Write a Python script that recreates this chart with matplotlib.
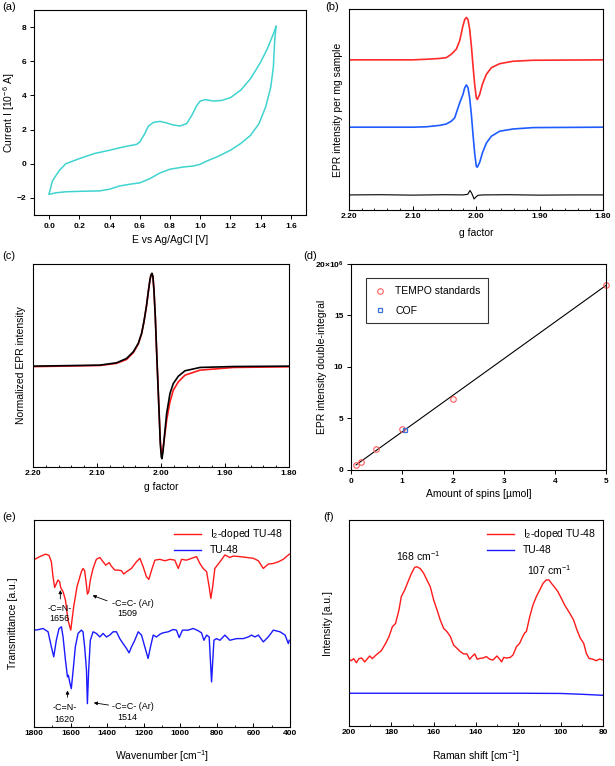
import numpy as np
import matplotlib
matplotlib.use('Agg')
import matplotlib.pyplot as plt
from matplotlib.ticker import MultipleLocator, FormatStrFormatter, FuncFormatter

plt.rcParams['font.family'] = ['Liberation Sans', 'DejaVu Sans']
plt.rcParams['mathtext.default'] = 'regular'
plt.rcParams['axes.linewidth'] = 0.8

W, H = 615, 766

##################################################
# data
##################################################

# (a) cyclic voltammogram, forward and reverse scan
cv_fwd_E = [0.0, 0.022, 0.067, 0.11, 0.2, 0.3, 0.4, 0.49, 0.58, 0.6, 0.633, 0.656, 0.69, 0.733,
            0.778, 0.82, 0.867, 0.91, 0.944, 0.978, 1.0, 1.033, 1.09, 1.144, 1.2, 1.267, 1.333,
            1.4, 1.444, 1.489, 1.502]
cv_fwd_I = [-1.75, -1.0, -0.4, 0.0, 0.3, 0.6, 0.79, 0.98, 1.14, 1.27, 1.76, 2.19, 2.42, 2.48,
            2.39, 2.27, 2.21, 2.35, 2.83, 3.42, 3.67, 3.75, 3.67, 3.71, 3.87, 4.30, 4.98,
            5.95, 6.73, 7.71, 8.04]
cv_rev_E = [1.502, 1.493, 1.484, 1.467, 1.433, 1.389, 1.333, 1.267, 1.2, 1.11, 1.044, 1.0,
            0.956, 0.889, 0.8, 0.733, 0.667, 0.6, 0.533, 0.467, 0.4, 0.333, 0.222, 0.111,
            0.044, 0.0]
cv_rev_I = [8.04, 7.22, 5.66, 4.49, 3.32, 2.35, 1.66, 1.18, 0.79, 0.40, 0.16, -0.03,
            -0.13, -0.19, -0.32, -0.54, -0.87, -1.12, -1.2, -1.30, -1.49, -1.59, -1.61, -1.64,
            -1.7, -1.79]

# (b) EPR spectra per mg sample (offset traces), common g grid
epr_g = [2.2, 2.1, 2.0782, 2.0572, 2.0467, 2.0388, 2.0336, 2.0310, 2.0257, 2.0205, 2.0178,
         2.0152, 2.0126, 2.0100, 2.0073, 2.0047, 2.0021, 1.9995, 1.9979, 1.9942, 1.99, 1.9837,
         1.9758, 1.9627, 1.9417, 1.91, 1.8]
epr_red = [74.7, 74.7, 75.0, 75.4, 75.8, 77.5, 79.2, 80.0, 84.2, 91.7, 94.7,
           95.8, 94.7, 90.0, 81.7, 71.7, 62.5, 55.8, 55.0, 57.5, 62.5, 67.5,
           70.8, 72.8, 74.0, 74.5, 74.7]
epr_blue = [41.2, 41.2, 41.4, 42.1, 42.8, 44.2, 45.8, 48.3, 53.3, 57.5, 60.8,
            62.2, 60.8, 55.8, 47.5, 37.5, 28.3, 21.7, 21.3, 23.7, 28.3, 33.3,
            36.7, 39.2, 40.3, 41.0, 41.2]
epr_blk_g = [2.2, 2.15, 2.1, 2.05, 2.02, 2.013, 2.0095, 2.007, 2.005, 2.003, 2.0, 1.997, 1.99,
             1.95, 1.9, 1.85, 1.8]
epr_blk = [7.5, 7.6, 7.4, 7.6, 7.5, 7.8, 9.7, 8.5, 7.0, 5.5, 6.5, 7.3, 7.5, 7.6, 7.4, 7.5, 7.5]

# (c) normalized EPR, measured (red) and simulated (black)
norm_g = [2.2, 2.0956, 2.0695, 2.0538, 2.0433, 2.0355, 2.0303, 2.0267, 2.0225, 2.0199, 2.0173,
          2.0157, 2.0141, 2.0126, 2.0110, 2.0089, 2.0069, 2.0048, 2.0027, 2.0011, 1.9995,
          1.9985, 1.9969, 1.9948, 1.9912, 1.9860, 1.9808, 1.9729, 1.9625, 1.9390, 1.8868, 1.8]
norm_black = [0.0, 0.011, 0.036, 0.083, 0.155, 0.245, 0.353, 0.478, 0.658, 0.80, 0.928,
              0.982, 1.0, 0.964, 0.82, 0.532, 0.173, -0.187, -0.547, -0.835, -0.978,
              -0.996, -0.924, -0.763, -0.511, -0.295, -0.187, -0.108, -0.05, -0.014, -0.004, 0.0]
norm_red = [-0.005, 0.007, 0.03, 0.072, 0.145, 0.238, 0.348, 0.474, 0.655, 0.797, 0.925,
            0.978, 0.996, 0.96, 0.815, 0.527, 0.168, -0.19, -0.54, -0.80, -0.93,
            -0.94, -0.888, -0.78, -0.583, -0.385, -0.259, -0.169, -0.097, -0.043, -0.014, -0.007]

# (d) spin quantification
tempo_x = [0.1, 0.2, 0.5, 1.0, 2.0, 5.0]
tempo_y = [0.45e6, 0.8e6, 2.0e6, 4.0e6, 6.9e6, 18.0e6]
cof_x = [1.05]
cof_y = [3.85e6]

# (e) FT-IR spectra
ir_red_wn = [1796, 1769, 1736, 1718, 1705, 1696, 1687, 1669, 1660, 1654, 1641, 1628, 1614, 1599,
             1583, 1565, 1541, 1532, 1523, 1513, 1508, 1501, 1492, 1477, 1459, 1440, 1422, 1408,
             1389, 1377, 1358, 1340, 1322, 1309, 1294, 1267, 1240, 1221, 1203, 1185, 1172, 1157,
             1139, 1112, 1084, 1057, 1030, 1011, 993, 966, 938, 911, 893, 875, 856, 842, 833, 823,
             811, 783, 756, 729, 710, 674, 637, 601, 573, 546, 519, 491, 464, 437, 404]
ir_red_T = [81.0, 82.3, 83.5, 82.9, 79.8, 72.6, 67.4, 71.0, 70.2, 67.4, 65.3, 61.3, 51.6, 46.8,
            58.1, 67.7, 75.0, 76.6, 75.5, 68.5, 64.2, 65.3, 71.0, 76.6, 81.0, 81.9, 79.8, 78.2,
            79.4, 77.7, 75.8, 75.8, 75.5, 73.9, 75.0, 76.6, 79.8, 81.5, 77.4, 72.6, 71.3, 75.8,
            80.6, 81.0, 80.3, 81.0, 80.6, 76.6, 81.0, 80.6, 81.5, 82.3, 79.0, 76.6, 75.0, 67.7, 62.1, 67.7,
            76.6, 79.8, 83.1, 81.9, 82.6, 82.3, 81.9, 81.5, 80.3, 76.6, 78.7, 79.0, 79.8, 81.0, 83.5]
ir_blue_wn = [1796, 1773, 1751, 1723, 1705, 1692, 1678, 1663, 1650, 1641, 1628, 1617, 1612, 1605,
              1596, 1586, 1574, 1559, 1541, 1532, 1523, 1513, 1508, 1501, 1492, 1477, 1459, 1440,
              1422, 1404, 1386, 1367, 1349, 1331, 1313, 1294, 1280, 1267, 1249, 1230, 1212, 1194,
              1176, 1163, 1148, 1130, 1112, 1094, 1066, 1039, 1021, 1006, 988, 957, 929, 902, 884,
              871, 856, 842, 829, 816, 802, 783, 756, 729, 692, 656, 628, 610, 592, 573, 546, 519,
              491, 455, 427, 409, 404]
ir_blue_T = [46.8, 47.1, 47.6, 46.0, 38.7, 33.9, 41.9, 47.6, 48.4, 43.5, 32.3, 24.2, 25.0, 21.8,
             18.5, 27.4, 38.7, 45.2, 46.8, 46.0, 38.7, 27.4, 11.3, 27.4, 41.9, 46.0, 45.2, 43.5,
             45.2, 43.5, 44.4, 46.0, 46.0, 42.7, 40.3, 37.9, 35.8, 38.7, 41.9, 46.0, 44.4, 38.7,
             33.1, 38.7, 44.4, 43.5, 44.8, 45.5, 46.0, 47.1, 46.8, 43.2, 46.8, 46.8, 47.6, 46.5, 45.5,
             41.9, 44.4, 43.5, 21.8, 41.9, 42.7, 41.9, 44.4, 41.9, 42.7, 42.7, 43.5, 44.4, 43.5, 44.4, 41.1, 43.5,
             46.8, 46.0, 44.4, 40.3, 41.9]

# (f) Raman spectra
raman_shift = [200.0, 198.9, 197.8, 196.5, 195.3, 194.0, 192.6, 191.5, 190.2, 189.0, 187.4, 184.7,
               182.7, 181.1, 179.5, 178.0, 176.4, 175.3, 173.7, 172.1, 170.6, 169.0, 167.9, 166.3,
               164.7, 163.2, 161.6, 160.0, 158.4, 156.9, 155.3, 153.7, 152.1, 150.6, 149.0, 147.4,
               145.8, 144.3, 143.0, 141.9, 140.6, 139.4, 138.3, 136.7, 135.1, 133.5, 132.0, 130.1,
               128.8, 127.9, 126.9, 125.7, 123.8, 122.5, 120.9, 119.4, 117.8, 116.9, 116.2, 114.6,
               113.1, 111.5, 109.9, 108.3, 106.8, 105.5, 104.4, 102.8, 101.3, 99.7, 98.1, 95.7,
               93.9, 92.3, 90.7, 89.1, 87.9, 86.6, 84.7, 83.2, 81.6, 80.0]
raman_doped = [32.4, 31.7, 32.7, 30.7, 32.7, 33.0, 31.1, 32.4, 34.0, 32.7, 34.3, 36.6,
               40.1, 43.4, 48.2, 49.8, 56.3, 62.8, 66.0, 70.1, 73.8, 77.0, 77.3, 76.4,
               74.1, 70.9, 67.6, 61.2, 56.3, 51.5, 47.4, 45.8, 43.4, 39.3, 37.7, 36.1,
               35.0, 35.0, 32.4, 33.7, 35.0, 32.4, 32.8, 33.0, 33.7, 32.4, 32.0, 34.0,
               32.4, 31.1, 33.3, 33.0, 33.3, 34.5, 38.5, 40.1, 43.7, 45.3, 45.8, 53.1,
               58.7, 62.8, 66.0, 69.3, 70.9, 70.9, 69.3, 67.3, 65.2, 62.0, 58.7, 54.7,
               51.5, 46.6, 42.6, 40.1, 35.3, 32.8, 32.4, 31.7, 32.5, 32.0]
raman_pure_shift = [200, 150, 120, 100, 90, 80]
raman_pure = [15.9, 15.9, 15.9, 15.8, 15.4, 14.9]


##################################################
# helpers
##################################################

def px_axes(left, top, right, bottom):
    return fig.add_axes([left / W, 1 - bottom / H, (right - left) / W, (bottom - top) / H])


def labels(ax, xlab, ylab, ylab_x, xlab_y, box):
    left, top, right, bottom = box
    ax.set_xlabel(xlab, fontsize=7.5, va='center')
    ax.set_ylabel(ylab, fontsize=7.5, va='center')
    ax.yaxis.set_label_coords((ylab_x - left) / (right - left), 0.5)
    ax.xaxis.set_label_coords(0.5, -(xlab_y - bottom) / (bottom - top))


def tick_style(ax, direction='out'):
    ax.tick_params(axis='both', which='major', labelsize=6, direction=direction,
                   length=3, width=0.7, pad=2.5)
    ax.tick_params(axis='both', which='minor', direction=direction, length=1.8, width=0.6)
    for t in ax.get_xticklabels() + ax.get_yticklabels():
        t.set_fontweight('bold')


fig = plt.figure(figsize=(W / 100, H / 100), dpi=100)

###############################
# (a)
###############################
box_a = (34, 10, 306, 215)
ax = px_axes(*box_a)
ax.plot(cv_fwd_E, cv_fwd_I, color='#3fd4cf', lw=1.1)
ax.plot(cv_rev_E, cv_rev_I, color='#3fd4cf', lw=1.1)
ax.set_xlim(-0.1, 1.7)
ax.set_ylim(-3, 9)
ax.yaxis.set_major_locator(MultipleLocator(2))
ax.set_xticks(np.arange(0, 1.61, 0.2))
ax.xaxis.set_major_formatter(FormatStrFormatter('%.1f'))
tick_style(ax, 'out')
labels(ax, 'E vs Ag/AgCl [V]', 'Current I [10$^{-6}$ A]', 9, 240, box_a)

###############################
# (b)
###############################
box_b = (349, 9, 603, 210)
ax = px_axes(*box_b)
ax.plot(epr_g, epr_red, color='#ff2a2a', lw=1.2)
ax.plot(epr_g, epr_blue, color='#1f5cff', lw=1.2)
ax.plot(epr_blk_g, epr_blk, color='black', lw=0.8)
ax.set_xlim(2.2, 1.8)
ax.set_ylim(0, 100)
ax.xaxis.set_major_locator(MultipleLocator(0.1))
ax.xaxis.set_minor_locator(MultipleLocator(0.02))
ax.xaxis.set_major_formatter(FormatStrFormatter('%.2f'))
ax.set_yticks([])
tick_style(ax, 'in')
labels(ax, 'g factor', 'EPR intensity per mg sample', 338, 233, box_b)

###############################
# (c)
###############################
box_c = (33, 264, 289, 467)
ax = px_axes(*box_c)
ax.plot(norm_g, norm_red, color='#ff1a1a', lw=1.2)
ax.plot(norm_g, norm_black, color='black', lw=1.2)
ax.set_xlim(2.2, 1.8)
ax.set_ylim(-1.086, 1.10)
ax.xaxis.set_major_locator(MultipleLocator(0.1))
ax.xaxis.set_minor_locator(MultipleLocator(0.02))
ax.xaxis.set_major_formatter(FormatStrFormatter('%.2f'))
ax.set_yticks([])
tick_style(ax, 'in')
labels(ax, 'g factor', 'Normalized EPR intensity', 21, 487, box_c)

###############################
# (d)
###############################
box_d = (351, 264, 606, 470)
ax = px_axes(*box_d)
slope, icpt = np.polyfit(tempo_x, tempo_y, 1)
fit_x = np.array([tempo_x[0], tempo_x[-1]])
ax.plot(fit_x, slope * fit_x + icpt, color='black', lw=0.8, zorder=1)
ax.plot(tempo_x, tempo_y, 'o', ms=4, mfc='none', mec='#ff5a5a', mew=0.8, label='TEMPO standards',
        clip_on=False)
ax.plot(cof_x, cof_y, 's', ms=3.5, mfc='none', mec='#3a6fd8', mew=0.9, label='COF')
ax.set_xlim(0, 5)
ax.set_ylim(0, 20e6)
ax.xaxis.set_major_locator(MultipleLocator(1))
ax.yaxis.set_major_locator(MultipleLocator(5e6))
ax.yaxis.set_major_formatter(FuncFormatter(
    lambda v, p: '20×10$^6$' if v >= 19.9e6 else '%d' % round(v / 1e6)))
tick_style(ax, 'out')
leg = ax.legend(loc='upper left', bbox_to_anchor=(0.04, 0.955), fontsize=7.5, frameon=True,
                fancybox=False, edgecolor='black', handletextpad=0.8, borderpad=0.75,
                labelspacing=0.9, handlelength=1.2)
leg.get_frame().set_linewidth(0.8)
labels(ax, 'Amount of spins [µmol]', 'EPR intensity double-integral', 322, 494, box_d)

###############################
# (e)
###############################
box_e = (34, 520, 290, 727)
ax = px_axes(*box_e)
ax.plot(ir_red_wn, ir_red_T, color='#ff1a1a', lw=1.0, label='I$_2$-doped TU-48')
ax.plot(ir_blue_wn, ir_blue_T, color='#1a1aff', lw=1.0, label='TU-48')
ax.set_xlim(1800, 400)
ax.set_ylim(0, 100)
ax.xaxis.set_major_locator(MultipleLocator(200))
ax.xaxis.set_minor_locator(MultipleLocator(100))
ax.set_yticks([])
tick_style(ax, 'in')
ax.legend(loc='upper right', fontsize=7.5, frameon=False, handlelength=2.6,
          borderaxespad=0.3, labelspacing=0.4)
arrow = dict(arrowstyle='-|>', color='black', lw=0.6, mutation_scale=5)
ax.annotate('', xy=(1656, 67.5), xytext=(1656, 60.5), arrowprops=arrow)
ax.text(1660, 57.3, '-C=N-', fontsize=6.5, ha='center', va='center')
ax.text(1660, 52.2, '1656', fontsize=6.5, ha='center', va='center')
ax.annotate('', xy=(1494, 64.0), xytext=(1386, 60.5), arrowprops=arrow)
ax.text(1262, 59.7, '-C=C- (Ar)', fontsize=6.5, ha='center', va='center')
ax.text(1287, 54.6, '1509', fontsize=6.5, ha='center', va='center')
ax.annotate('', xy=(1617, 19.0), xytext=(1617, 13.0), arrowprops=arrow)
ax.text(1632, 9.4, '-C=N-', fontsize=6.5, ha='center', va='center')
ax.text(1632, 3.6, '1620', fontsize=6.5, ha='center', va='center')
ax.annotate('', xy=(1488, 11.9), xytext=(1377, 10.4), arrowprops=arrow)
ax.text(1258, 9.7, '-C=C- (Ar)', fontsize=6.5, ha='center', va='center')
ax.text(1289, 4.8, '1514', fontsize=6.5, ha='center', va='center')
labels(ax, 'Wavenumber [cm$^{-1}$]', 'Transmittance [a.u.]', 13, 756, box_e)

###############################
# (f)
###############################
box_f = (349, 520, 603, 726)
ax = px_axes(*box_f)
ax.plot(raman_shift, raman_doped, color='#ff1a1a', lw=1.0, label='I$_2$-doped TU-48')
ax.plot(raman_pure_shift, raman_pure, color='#1a1aff', lw=1.0, label='TU-48')
ax.set_xlim(200, 80)
ax.set_ylim(0, 100)
ax.xaxis.set_major_locator(MultipleLocator(20))
ax.xaxis.set_minor_locator(MultipleLocator(10))
ax.set_yticks([])
tick_style(ax, 'in')
ax.legend(loc='upper right', fontsize=7.5, frameon=False, handlelength=2.6,
          borderaxespad=0.3, labelspacing=0.4)
ax.text(167.4, 82.5, '168 cm$^{-1}$', fontsize=7.5, ha='center', va='center')
ax.text(105.5, 75.6, '107 cm$^{-1}$', fontsize=7.5, ha='center', va='center')
labels(ax, 'Raman shift [cm$^{-1}$]', 'Intensity [a.u.]', 328, 756, box_f)

# panel letters
for lab, x, y in [('(a)', 2, 7), ('(b)', 325, 7), ('(c)', 2, 256), ('(d)', 303, 256),
                  ('(e)', 2, 517), ('(f)', 323, 517)]:
    fig.text(x / W, 1 - y / H, lab, fontsize=8, ha='left', va='center')

fig.savefig('out.png', dpi=100)
